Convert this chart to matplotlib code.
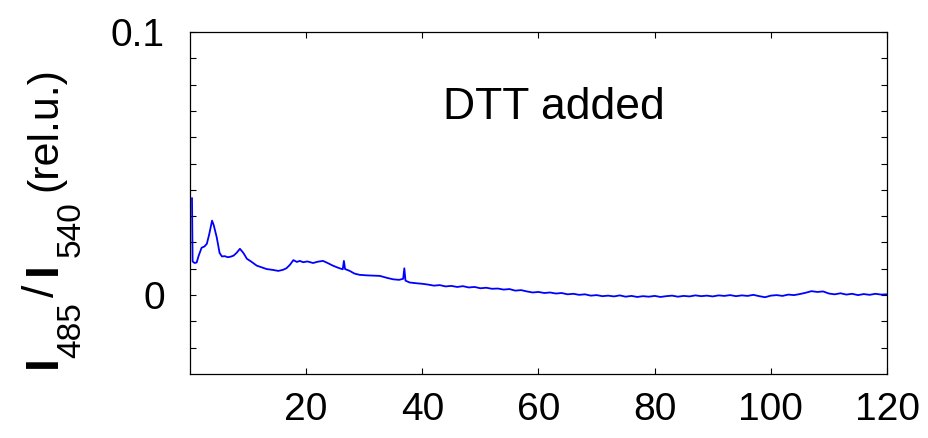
import matplotlib
matplotlib.use('Agg')
import matplotlib.pyplot as plt
from matplotlib.ticker import FixedLocator, FixedFormatter

# time (x) and ratio I485/I540 (y)
t_early = [0.35, 0.45, 0.8, 1.15, 1.5, 2.0, 2.5, 2.9, 3.3, 3.8, 4.1, 4.6, 5.1, 5.5,
           6.0, 6.5, 7.0, 7.5, 8.0, 8.6, 9.2, 9.8, 10.5, 11.5, 12.3, 13.2, 14.2,
           15.2, 16.0, 16.6, 17.2, 17.8, 18.4, 18.9, 19.5, 20.2, 21.2, 22.0, 22.9,
           23.7, 24.6, 25.5, 26.3, 26.5, 26.7, 27.5, 28.3, 29.2, 30.5, 31.5, 32.7,
           34.0, 35.0, 36.0, 36.7, 36.9, 37.1, 37.8, 39.0, 40.0]
v_early = [0.0368, 0.0128, 0.0122, 0.0124, 0.0150, 0.0180, 0.0185, 0.0195, 0.0230,
           0.0283, 0.0265, 0.0220, 0.0160, 0.0147, 0.0148, 0.0144, 0.0146, 0.0150,
           0.0160, 0.0176, 0.0160, 0.0138, 0.0128, 0.0112, 0.0106, 0.0099, 0.0096,
           0.0092, 0.0096, 0.0102, 0.0115, 0.0133, 0.0126, 0.0130, 0.0125, 0.0128,
           0.0122, 0.0127, 0.0130, 0.0122, 0.0112, 0.0104, 0.0098, 0.0130, 0.0099,
           0.0092, 0.0082, 0.0077, 0.0075, 0.0074, 0.0073, 0.0065, 0.0060, 0.0058,
           0.0062, 0.0102, 0.0055, 0.0048, 0.0045, 0.0043]

t_late = list(range(41, 121))
v_late = [0.0040, 0.0036, 0.0038, 0.0033, 0.0035, 0.0031, 0.0034, 0.0029, 0.0031, 0.0026,
          0.0028, 0.0024, 0.0025, 0.0021, 0.0023, 0.0017, 0.0019, 0.0014, 0.0010, 0.0012,
          0.0008, 0.0010, 0.0006, 0.0008, 0.0003, 0.0005, 0.0001, 0.0003, -0.0002, 0.0000,
          -0.0004, -0.0002, -0.0005, -0.0001, -0.0006, -0.0003, -0.0007, -0.0004, -0.0006, -0.0003,
          -0.0007, -0.0004, -0.0002, -0.0006, -0.0003, -0.0005, -0.0001, -0.0004, -0.0002, -0.0005,
          -0.0001, -0.0003, 0.0000, -0.0004, -0.0001, -0.0003, 0.0001, -0.0004, -0.0008, -0.0002,
          0.0000, -0.0003, 0.0002, 0.0000, 0.0004, 0.0009, 0.0015, 0.0012, 0.0014, 0.0006,
          0.0003, 0.0007, 0.0002, 0.0005, 0.0000, 0.0004, 0.0001, 0.0005, 0.0002, 0.0003]

x_ticks = [20, 40, 60, 80, 100, 120]
y_ticks = [-0.02, -0.01, 0, 0.01, 0.02, 0.03, 0.04, 0.05, 0.06, 0.07, 0.08, 0.09, 0.1]
y_labels = ['', '', '0', '', '', '', '', '', '', '', '', '', '0.1']

plt.rcParams['font.family'] = ['Liberation Sans', 'DejaVu Sans']

fig = plt.figure(figsize=(9.29, 4.38), dpi=100)
ax = fig.add_axes([0.2045, 0.146, 0.7503, 0.781])

ax.plot(t_early + t_late, v_early + v_late, color='#0000ff', linewidth=1.3)

ax.set_xlim(0, 120)
ax.set_ylim(-0.03, 0.1)
ax.xaxis.set_major_locator(FixedLocator(x_ticks))
ax.yaxis.set_major_locator(FixedLocator(y_ticks))
ax.yaxis.set_major_formatter(FixedFormatter(y_labels))
ax.tick_params(direction='in', top=True, right=True, length=4, width=0.8,
               labelsize=28, pad=13)
ax.tick_params(axis='y', pad=18)
for s in ax.spines.values():
    s.set_linewidth(0.9)

ax.text(62.7, 0.0713, 'DTT added', ha='center', va='center', fontsize=32)

# y label pieces (I bold, subscripts lowered)
def ylab(s, x, y, size, weight='normal'):
    fig.text(x / 929, 1 - y / 438, s, rotation=90, rotation_mode='anchor',
             ha='left', va='baseline', fontsize=size, fontweight=weight)

ylab('I', 56, 368, 33, 'bold')
ylab('485', 80, 358, 24)
ylab('/', 54, 297, 32)
ylab('I', 56, 275, 33, 'bold')
ylab('540', 80, 257, 24)
ylab('(rel.u.)', 56, 191, 31)

fig.savefig('out.png', dpi=100)
